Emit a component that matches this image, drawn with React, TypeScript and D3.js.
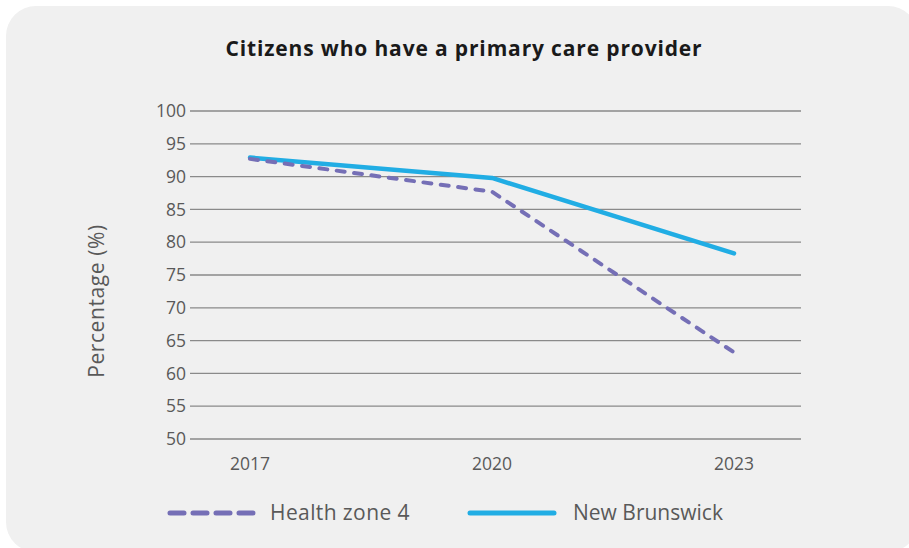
import React from "react";
import * as d3 from "d3";

const years = ["2017", "2020", "2023"];
const healthZone4 = [92.7, 87.7, 63.2];
const newBrunswick = [92.9, 89.8, 78.3];
const yTicks = [50, 55, 60, 65, 70, 75, 80, 85, 90, 95, 100];
const seriesNames = ["Health zone 4", "New Brunswick"];

const W = 909;
const H = 548;
const FONT = "'Open Sans', 'Noto Sans', sans-serif";
const PURPLE = "#756fb6";
const BLUE = "#21ade4";
const TEXT = "#595959";

export default function App() {
  const x = d3.scalePoint<string>().domain(years).range([250, 734]);
  const y = d3.scaleLinear().domain([50, 100]).range([439, 111]);
  const gridX0 = 190;
  const gridX1 = 801;

  const line = d3
    .line<number>()
    .x((_, i) => x(years[i]) as number)
    .y((d) => y(d))
    .curve(d3.curveLinear);

  return (
    <svg
      width={W}
      height={H}
      style={{ position: "absolute", left: 0, top: 0, display: "block" }}
    >
      <rect x={0} y={0} width={W} height={H} fill="#ffffff" />
      <rect x={6} y={6} width={912} height={546} rx={30} ry={30} fill="#f0f0f0" />
      <text
        x={464}
        y={56}
        textAnchor="middle"
        fontFamily={FONT}
        fontWeight={700}
        fontSize={21}
        letterSpacing={0.85}
        fill="#1a1a1a"
      >
        Citizens who have a primary care provider
      </text>

      {yTicks.map((t) => (
        <g key={t}>
          <line
            x1={gridX0}
            x2={gridX1}
            y1={y(t)}
            y2={y(t)}
            stroke="#8a8a8a"
            strokeWidth={1.3}
          />
          <text
            x={186}
            y={y(t)}
            dy="0.35em"
            textAnchor="end"
            fontFamily={FONT}
            fontSize={17.5}
            fill={TEXT}
          >
            {t}
          </text>
        </g>
      ))}

      {years.map((yr) => (
        <text
          key={yr}
          x={x(yr)}
          y={470}
          textAnchor="middle"
          fontFamily={FONT}
          fontSize={17.5}
          fill={TEXT}
        >
          {yr}
        </text>
      ))}

      <text
        transform={`translate(104,301) rotate(-90)`}
        textAnchor="middle"
        fontFamily={FONT}
        fontSize={21}
        letterSpacing={0.6}
        fill={TEXT}
      >
        Percentage (%)
      </text>

      <path
        d={line(newBrunswick) || ""}
        fill="none"
        stroke={BLUE}
        strokeWidth={4.5}
        strokeLinecap="round"
        strokeLinejoin="round"
      />
      <path
        d={line(healthZone4) || ""}
        fill="none"
        stroke={PURPLE}
        strokeWidth={4}
        strokeLinecap="round"
        strokeLinejoin="round"
        strokeDasharray="8 9.5"
      />

      {/* Legend */}
      <line
        x1={170}
        x2={254}
        y1={513}
        y2={513}
        stroke={PURPLE}
        strokeWidth={5}
        strokeLinecap="round"
        strokeDasharray="14 9"
      />
      <text x={270} y={513} dy="0.35em" fontFamily={FONT} fontSize={21} letterSpacing={0.4} fill={TEXT}>
        {seriesNames[0]}
      </text>
      <line
        x1={470}
        x2={554}
        y1={513}
        y2={513}
        stroke={BLUE}
        strokeWidth={5}
        strokeLinecap="round"
      />
      <text x={573} y={513} dy="0.35em" fontFamily={FONT} fontSize={21} letterSpacing={0} fill={TEXT}>
        {seriesNames[1]}
      </text>
    </svg>
  );
}
